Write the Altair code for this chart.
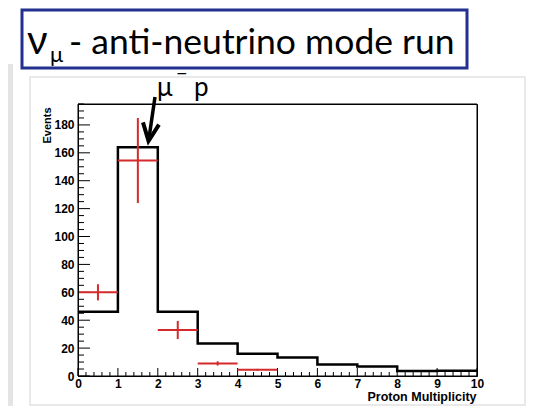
import altair as alt
import pandas as pd

# ---------------- data ----------------
bin_lo = [0, 1, 2, 3, 4, 5, 6, 7, 8, 9]
mc_counts = [46, 164, 46, 23.3, 16, 13.2, 8.2, 6.8, 3.6, 3.8]

data_bins = [0, 1, 2, 3, 4]
data_counts = [60, 154.5, 33, 9, 4.5]
data_err = [5.8, 30.5, 6.5, 1.5, 0.6]

x_major = [0, 1, 2, 3, 4, 5, 6, 7, 8, 9, 10]
y_major = [0, 20, 40, 60, 80, 100, 120, 140, 160, 180]
x_minor = [i / 5 for i in range(0, 51) if i % 5 != 0]
y_minor = [v for v in range(0, 196, 5) if v % 20 != 0]

title_main = "- anti-neutrino mode run"
annot = "p"

W, H = 399, 272
xs = alt.Scale(domain=[0, 10], nice=False, zero=False)
ys = alt.Scale(domain=[0, 195], nice=False, zero=False)
BOLD = "Liberation Sans"
TFONT = "Lato"

AX = alt.Axis(
    values=x_major, ticks=False, grid=False, format="d", labelFlush=False, labelOverlap=False,
    labelFont=BOLD, labelFontWeight="bold", labelFontSize=12, labelColor="black",
    labelPadding=2, domainColor="black", zindex=1,
    title="Proton Multiplicity", titleFont=BOLD, titleFontWeight="bold", titleFontSize=12.5,
    titleColor="black", titleX=398, titleY=24, titleAlign="right", titleBaseline="alphabetic",
    titleAnchor="end")
AY = alt.Axis(
    values=y_major, ticks=False, grid=False, format="d", labelOverlap=False,
    labelFont=BOLD, labelFontWeight="bold", labelFontSize=12, labelColor="black",
    labelPadding=4, domainColor="black", zindex=1,
    title="Events", titleFont=BOLD, titleFontWeight="bold", titleFontSize=11,
    titleColor="black", titleX=-31, titleY=3, titleAngle=270, titleAlign="right",
    titleBaseline="middle", titleAnchor="end")

hist_df = pd.DataFrame({"x": bin_lo + [10], "y": mc_counts + [mc_counts[-1]]})
dat_df = pd.DataFrame({"lo": data_bins, "n": data_counts, "e": data_err})
one = pd.DataFrame({"a": [0]})

# outer panel & title box
panel = alt.Chart(one).mark_rect(fill="transparent", stroke="#e2e2e2", strokeWidth=1.5).encode(
    x=alt.value(-48), x2=alt.value(447), y=alt.value(-27), y2=alt.value(301))
shade = alt.Chart(one).mark_rect(fill="#e4e4e4").encode(
    x=alt.value(-70), x2=alt.value(-65), y=alt.value(-40), y2=alt.value(302))
tbox = alt.Chart(one).mark_rect(fill="white", stroke="#22308f", strokeWidth=3).encode(
    x=alt.value(-56), x2=alt.value(389), y=alt.value(-94), y2=alt.value(-36))
t_nu = alt.Chart(one).mark_text(text="ν", font=TFONT, fontSize=40, align="left",
                                baseline="alphabetic", color="black").encode(
    x=alt.value(-51), y=alt.value(-50))
t_mu = alt.Chart(one).mark_text(text="μ", font=TFONT, fontSize=22, align="left",
                                baseline="alphabetic", color="black").encode(
    x=alt.value(-28), y=alt.value(-42))
t_main = alt.Chart(one).mark_text(text=title_main, font=TFONT, fontSize=35.5, align="left",
                                  baseline="alphabetic", color="black").encode(
    x=alt.value(-9), y=alt.value(-50))

# annotation mu- p and arrow
a_mu = alt.Chart(one).mark_text(text="μ", font=TFONT, fontSize=26, align="left",
                                baseline="alphabetic", color="black").encode(
    x=alt.value(79), y=alt.value(-8))
a_minus = alt.Chart(one).mark_text(text="−", font=TFONT, fontSize=20, align="left",
                                   baseline="alphabetic", color="black").encode(
    x=alt.value(98), y=alt.value(-24))
a_p = alt.Chart(one).mark_text(text=annot, font=TFONT, fontSize=26, align="left",
                               baseline="alphabetic", color="black").encode(
    x=alt.value(116), y=alt.value(-8))
shaft = alt.Chart(one).mark_rule(color="black", strokeWidth=3.5).encode(
    x=alt.value(77), x2=alt.value(71), y=alt.value(-7), y2=alt.value(34))
head = alt.Chart(one).mark_point(shape="M-1,-2.2L0,0L1,-2.2", filled=False, color="black",
                                 strokeWidth=4, size=260, angle=8, opacity=1).encode(
    x=alt.value(70.5), y=alt.value(37))

# histogram
hist = alt.Chart(hist_df).mark_line(interpolate="step-after", color="black", strokeWidth=2.5).encode(
    x=alt.X("x:Q", scale=xs, axis=AX),
    y=alt.Y("y:Q", scale=ys, axis=AY),
)

# data points with errors
dbase = alt.Chart(dat_df).transform_calculate(
    hi="datum.lo + 1", c="datum.lo + 0.5", ylo="datum.n - datum.e", yhi="datum.n + datum.e")
hbar = dbase.mark_rule(color="#d42a2a", strokeWidth=2).encode(
    x=alt.X("lo:Q", scale=xs, axis=AX), x2="hi:Q", y=alt.Y("n:Q", scale=ys, axis=AY))
vbar = dbase.mark_rule(color="#d42a2a", strokeWidth=2).encode(
    x=alt.X("c:Q", scale=xs, axis=AX), y=alt.Y("ylo:Q", scale=ys, axis=AY), y2="yhi:Q")

# inner ticks (ROOT style)
def xt(vals, ln):
    return alt.Chart(pd.DataFrame({"v": vals})).mark_rule(color="black", strokeWidth=1).encode(
        x=alt.X("v:Q", scale=xs, axis=AX), y=alt.value(H), y2=alt.value(H - ln))

def yt(vals, ln):
    return alt.Chart(pd.DataFrame({"v": vals})).mark_rule(color="black", strokeWidth=1).encode(
        y=alt.Y("v:Q", scale=ys, axis=AY), x=alt.value(0), x2=alt.value(ln))

# frame (top and right edges)
frame = alt.Chart(one).mark_rect(fill="transparent", stroke="black", strokeWidth=1).encode(
    x=alt.value(0), x2=alt.value(W), y=alt.value(0), y2=alt.value(H))

chart = alt.layer(
    shade, panel, tbox, t_nu, t_mu, t_main, frame,
    hist, xt(x_major, 8), xt(x_minor, 4), yt(y_major, 12), yt(y_minor, 6),
    hbar, vbar, a_mu, a_minus, a_p, shaft, head,
).resolve_scale(x="shared", y="shared").properties(
    width=W, height=H,
    autosize=alt.AutoSizeParams(type="none"),
    padding={"left": 70, "top": 96, "right": 50, "bottom": 30},
    background="white",
).configure_view(stroke="black", strokeWidth=1)

chart.save("out.html", embed_options={"renderer": "svg", "actions": False})
